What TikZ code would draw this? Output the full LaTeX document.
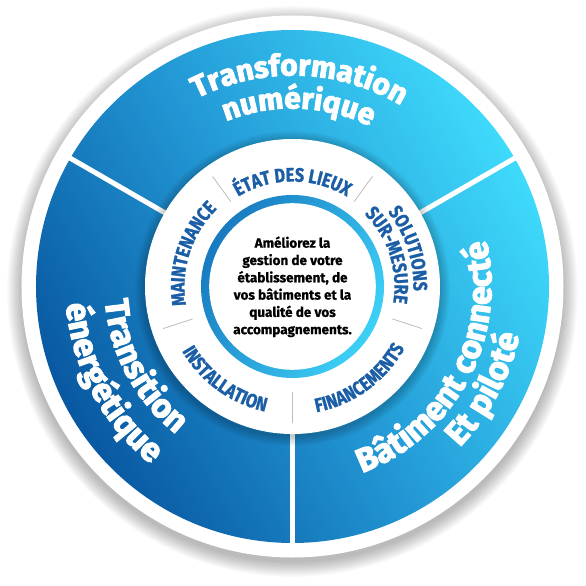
\documentclass[tikz,border=0pt]{standalone}
\usepackage{fontspec}
\usetikzlibrary{decorations.text}
\newfontfamily\bigfont[FakeBold=3]{Fira Sans}
\def\bigsel{\bigfont\bfseries}
\newfontfamily\labfont[FakeStretch=0.84,FakeBold=1.2]{Fira Sans}
\newfontfamily\cenfont[FakeBold=0.8]{Fira Sans}
\definecolor{odark}{HTML}{0857A0}
\definecolor{omid}{HTML}{2399D6}
\definecolor{olight}{HTML}{3FDBFC}
\definecolor{rdark}{HTML}{1778BF}
\definecolor{rlight}{HTML}{3ED3F8}
\definecolor{labblue}{HTML}{1B5EA6}
\definecolor{sepgray}{HTML}{BDBDBD}
\newcommand\cwtext[5]{\path[decorate,decoration={text along path,text={|#3|#5},text align=center,text color=#4}] ({#2+80}:#1pt) arc[start angle={#2+80},end angle={#2-80},radius=#1pt];}
\newcommand\ccwtext[5]{\path[decorate,decoration={text along path,text={|#3|#5},text align=center,text color=#4}] ({#2-80}:#1pt) arc[start angle={#2-80},end angle={#2+80},radius=#1pt];}
\newcommand\topfnt{\bigsel\fontsize{30}{30}\selectfont}
\newcommand\sidefnt{\bigsel\fontsize{33.5}{33.5}\selectfont}
\newcommand\labf{\labfont\bfseries\fontsize{19.5}{19.5}\selectfont}
\begin{document}
\begin{tikzpicture}[x=1pt,y=1pt]
\useasboundingbox (-292.5,-299.5) rectangle (293.5,286.5);
\fill[white] (-292.5,-299.5) rectangle (293.5,286.5);
% outer soft shadow
\foreach \i in {0,...,11}{\fill[black,opacity=0.022] (0,-5) circle[radius={271pt+\i*1.3pt}];}
% white border disc
\fill[white] (0,0) circle[radius=271pt];
% outer blue gradient ring
\begin{scope}
\clip (0,0) circle[radius=256.5pt];
\shade[transform canvas={rotate=30},left color=odark,right color=olight,middle color=omid] (-260,-260) rectangle (260,260);
\end{scope}
% white separators of outer ring
\foreach \a in {30,150,270}{\draw[white,line width=5pt] (\a:140pt) -- (\a:262pt);}
% shadow of inner disc
\foreach \i in {1,...,7}{\fill[black,opacity=0.03] (0,-2) circle[radius={147.5pt+\i*1.4pt}];}
% inner white disc
\fill[white] (0,0) circle[radius=147.5pt];
% thin grey separators
\foreach \a in {54,126,198,270,342}{\draw[sepgray,line width=0.8pt] (\a:105pt) -- (\a:136pt);}
% inner gradient ring
\begin{scope}
\clip (0,0) circle[radius=91.5pt];
\shade[transform canvas={rotate=-30},left color=rdark,right color=rlight] (-95,-95) rectangle (95,95);
\end{scope}
\fill[white] (0,0) circle[radius=83.3pt];
% centre text
\node[font=\cenfont\bfseries\fontsize{13.5}{17.3}\selectfont,align=center,inner sep=0pt,text=black] (centre) at (0,-0.3) {Améliorez la\\gestion de votre\\établissement, de\\vos bâtiments et la\\qualité de vos\\accompagnements.};
% outer labels
\cwtext{211}{88}{\topfnt}{white}{Transformation}
\cwtext{178}{88}{\topfnt}{white}{numérique}
\ccwtext{188}{208}{\sidefnt}{white}{Transition}
\ccwtext{227}{208}{\sidefnt}{white}{énergétique}
\ccwtext{199}{332}{\sidefnt}{white}{Bâtiment connecté}
\ccwtext{232}{332}{\sidefnt}{white}{Et piloté}
% inner labels
\cwtext{105}{90}{\labf}{labblue}{ÉTAT DES LIEUX}
\cwtext{108}{162}{\labf}{labblue}{MAINTENANCE}
\cwtext{121}{18}{\labf}{labblue}{SOLUTIONS}
\cwtext{102}{18}{\labf}{labblue}{SUR-MESURE}
\ccwtext{128}{234}{\labf}{labblue}{INSTALLATION}
\ccwtext{128}{306}{\labf}{labblue}{FINANCEMENTS}
\end{tikzpicture}
\end{document}
